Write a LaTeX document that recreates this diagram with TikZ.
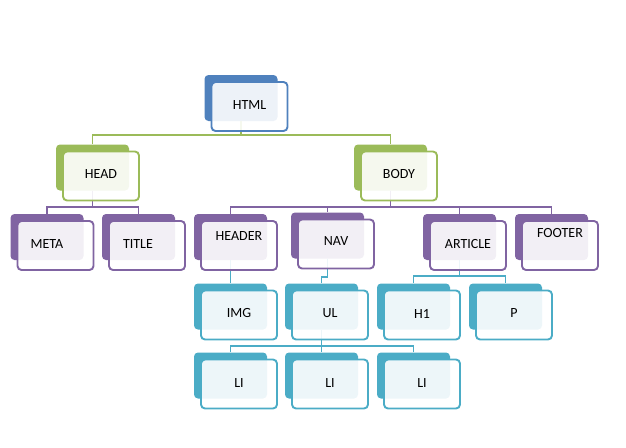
\documentclass[tikz,border=0pt]{standalone}
\usepackage{fontspec}
\setmainfont{Carlito}
\definecolor{cBlue}{HTML}{4F81BD}
\definecolor{cGreen}{HTML}{9BBB59}
\definecolor{cPurple}{HTML}{8064A2}
\definecolor{cTeal}{HTML}{4BACC6}

\begin{document}
\begin{tikzpicture}[
  x=1pt,y=-1pt,
  backbox/.style={rectangle,rounded corners=4pt,minimum width=73pt,minimum height=46pt,inner sep=0pt},
  frontbox/.style={rectangle,rounded corners=4pt,minimum width=76pt,minimum height=49pt,inner sep=0pt,
    line width=1.9pt,fill=white,fill opacity=0.9},
  txt/.style={font=\fontsize{14}{16}\selectfont,inner sep=0pt,text=black},
  con/.style={line width=1.9pt},
]
\useasboundingbox (0,0) rectangle (626,447);

% ---- back boxes (coloured) ----------------------------------------------
\foreach \n/\x/\y/\c in {html/241/98/cBlue,
    head/92.5/167.5/cGreen, body/390.5/167.5/cGreen,
    meta/47/237/cPurple, title/138.5/237/cPurple, header/230.5/237/cPurple,
    nav/327.5/235.5/cPurple, article/459.5/237/cPurple, footer/551.5/237/cPurple,
    img/230.5/306.5/cTeal, ul/321.5/306.5/cTeal, h1/413.5/306.5/cTeal, p/505.5/306.5/cTeal,
    li1/230.5/375.5/cTeal, li2/321.5/375.5/cTeal, li3/413.5/375.5/cTeal}
  \node[backbox,fill=\c] (\n) at (\x,\y) {};

% ---- connectors ---------------------------------------------------------
\draw[con,cGreen] (html.south) -- ++(0,14) -| (head.north);
\draw[con,cGreen] (html.south) -- ++(0,14) -| (body.north);
\foreach \b in {meta,title}
  \draw[con,cPurple] (head.south) -- ++(0,16) -| (\b.north);
\foreach \b in {header,nav,article,footer}
  \draw[con,cPurple] (body.south) -- ++(0,16) -| (\b.north);
\draw[con,cTeal] (header.south) -- (img.north);
\draw[con,cTeal] (nav.south) -- ++(0,18) -| (ul.north);
\foreach \b in {h1,p}
  \draw[con,cTeal] (article.south) -- ++(0,16) -| (\b.north);
\foreach \b in {li1,li2,li3}
  \draw[con,cTeal] (ul.south) -- ++(0,16) -| (\b.north);

% ---- front boxes and labels ---------------------------------------------
\foreach \n/\c/\dx/\dy/\t in {html/cBlue/0/-1.5/HTML,
    head/cGreen/0/-1.5/HEAD, body/cGreen/0/-1.5/BODY,
    meta/cPurple/-8.5/-1/META, title/cPurple/-9/-1/TITLE, header/cPurple/0/-9.5/HEADER,
    nav/cPurple/0/-3/NAV, article/cPurple/0/-1.5/ARTICLE, footer/cPurple/0/-12/FOOTER,
    img/cTeal/0/-1.5/IMG, ul/cTeal/0/-1.5/UL, h1/cTeal/0/-1.5/H1, p/cTeal/0/-1.5/P,
    li1/cTeal/0/-1/LI, li2/cTeal/0/-1/LI, li3/cTeal/0/-1/LI}{
  \node[frontbox,draw=\c] (\n-f) at ([shift={(8.5,8.5)}]\n) {};
  \node[txt] (\n-t) at ([shift={(\dx,\dy)}]\n-f) {\t};
}

\end{tikzpicture}
\end{document}
